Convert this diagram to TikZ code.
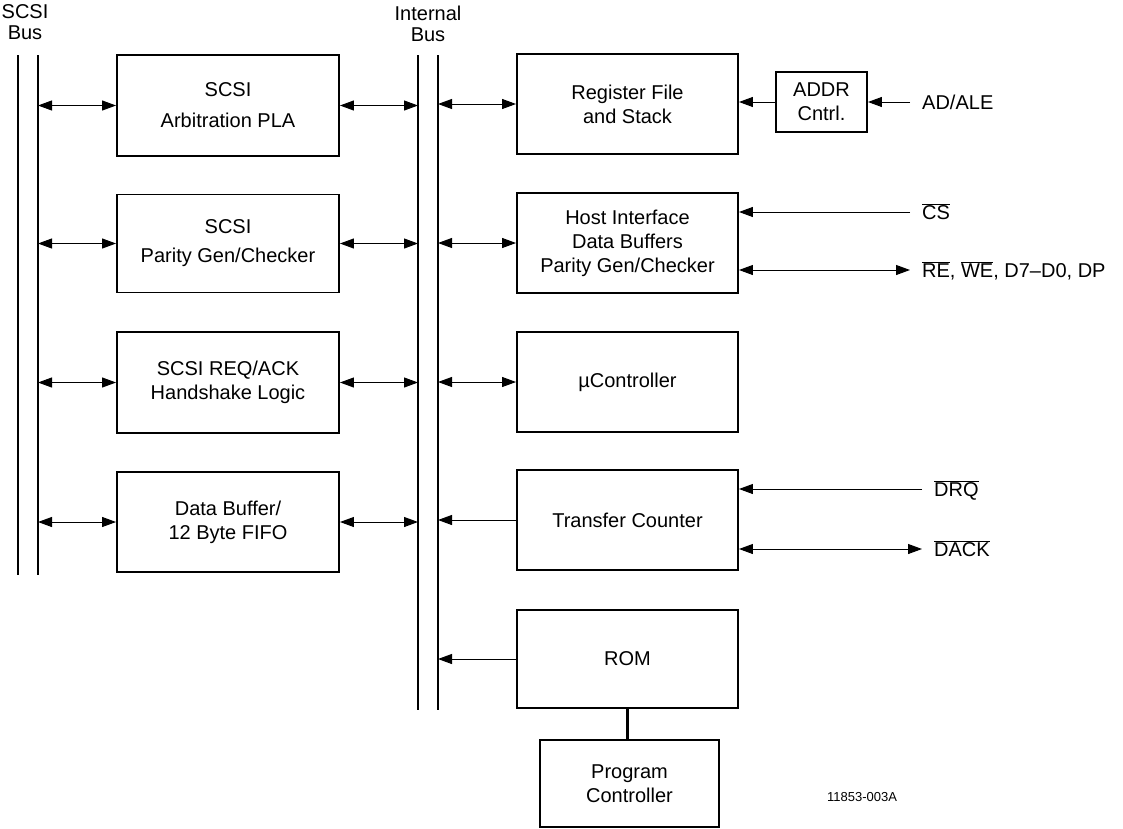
\documentclass[tikz,border=0pt]{standalone}
\usepackage{fontspec}
\setmainfont{Liberation Sans}
\usetikzlibrary{arrows.meta}
\newcommand{\ovl}[1]{$\overline{\mbox{#1}}$}

\begin{document}
\begin{tikzpicture}[x=1pt, y=-1pt,
		blk/.style={draw, line width=1.9pt, align=center, inner sep=0pt, font=\fontsize{20}{24}\selectfont},
		bus/.style={line width=2.6pt},
		buslbl/.style={align=center, font=\fontsize{20}{21}\selectfont},
		sig/.style={anchor=west, inner xsep=12pt, inner ysep=0pt, text height=15pt, text depth=0pt, font=\fontsize{20}{24}\selectfont},
		both/.style={line width=1pt, {Triangle[length=14pt,width=10pt]}-{Triangle[length=14pt,width=10pt]}},
		one/.style={line width=1pt, -{Triangle[length=14pt,width=10pt]}}]

		\useasboundingbox ( 0, 0 ) rectangle ( 1123, 828 );

		% шина SCSI
		\draw [bus] ( 18, 55 ) -- ( 18, 575 );
		\draw [bus] ( 38, 55 ) -- ( 38, 575 );
		\coordinate (sbus) at ( 38, 55 );
		\node [buslbl] (sbuslbl) at ( 25, 22 ) {SCSI\\Bus};

		% внутренняя шина
		\draw [bus] ( 418, 55 ) -- ( 418, 710 );
		\draw [bus] ( 438, 55 ) -- ( 438, 710 );
		\coordinate (ibusl) at ( 418, 55 );
		\coordinate (ibusr) at ( 438, 55 );
		\node [buslbl] (ibuslbl) at ( 428, 24 ) {Internal\\Bus};

		% блоки SCSI
		\node [blk, minimum width=222pt, minimum height=101pt] (arb) at ( 228, 105.5 ) {SCSI\\[7pt]Arbitration PLA};
		\node [blk, minimum width=222pt, minimum height=98pt] (par) at ( 228, 243.5 ) {SCSI\\[5pt]Parity Gen/Checker};
		\node [blk, minimum width=222pt, minimum height=101pt] (req) at ( 228, 382.5 ) {SCSI REQ/ACK\\Handshake Logic};
		\node [blk, minimum width=222pt, minimum height=100pt] (fifo) at ( 228, 522 ) {Data Buffer/\\12 Byte FIFO};

		\draw [both] (sbus |- arb.west) -- (arb.west);
		\draw [both] (sbus |- par.west) -- (par.west);
		\draw [both] (sbus |- req.west) -- (req.west);
		\draw [both] (sbus |- fifo.west) -- (fifo.west);

		\draw [both] (arb.east) -- (ibusl |- arb.east);
		\draw [both] (par.east) -- (ibusl |- par.east);
		\draw [both] (req.east) -- (ibusl |- req.east);
		\draw [both] (fifo.east) -- (ibusl |- fifo.east);

		% блоки справа
		\node [blk, minimum width=221pt, minimum height=100pt] (reg) at ( 627.5, 104 ) {Register File\\and Stack};
		\node [blk, minimum width=221pt, minimum height=100pt] (host) at ( 627.5, 243 ) {Host Interface\\Data Buffers\\Parity Gen/Checker};
		\node [blk, minimum width=221pt, minimum height=100pt] (uc) at ( 627.5, 382 ) {µController};
		\node [blk, minimum width=221pt, minimum height=100pt] (tc) at ( 627.5, 520 ) {Transfer Counter};
		\node [blk, minimum width=221pt, minimum height=98pt] (rom) at ( 627.5, 659 ) {ROM};
		\node [blk, minimum width=179pt, minimum height=87pt] (pc) at ( 629.5, 783.5 ) {Program\\Controller};
		\node [blk, minimum width=91pt, minimum height=60pt] (addr) at ( 821.5, 102 ) {ADDR\\Cntrl.};

		\draw [both] (ibusr |- reg.west) -- (reg.west);
		\draw [both] (ibusr |- host.west) -- (host.west);
		\draw [both] (ibusr |- uc.west) -- (uc.west);
		\draw [one] (tc.west) -- (ibusr |- tc.west);
		\draw [one] (rom.west) -- (ibusr |- rom.west);
		\draw [line width=2.6pt] (rom.south) -- (rom.south |- pc.north);
		\draw [one] (addr.west) -- (reg.east |- addr.west);

		% сигналы
		\node [sig] (adale) at ( 910, 102 ) {AD/ALE};
		\node [sig] (cs) at ( 910, 212 ) {\ovl{CS}};
		\node [sig] (rewe) at ( 910, 270 ) {\ovl{RE}, \ovl{WE}, D7–D0, DP};
		\node [sig] (drq) at ( 922, 489 ) {\ovl{DRQ}};
		\node [sig] (dack) at ( 922, 549 ) {\ovl{DACK}};

		\draw [one] (adale.west) -- (addr.east |- adale.west);
		\draw [one] (cs.west) -- (host.east |- cs.west);
		\draw [both] (host.east |- rewe.west) -- (rewe.west);
		\draw [one] (drq.west) -- (tc.east |- drq.west);
		\draw [both] (tc.east |- dack.west) -- (dack.west);

		\node [font=\fontsize{13}{15}\selectfont] (fignum) at ( 862, 797 ) {11853-003A};
	\end{tikzpicture}
\end{document}
